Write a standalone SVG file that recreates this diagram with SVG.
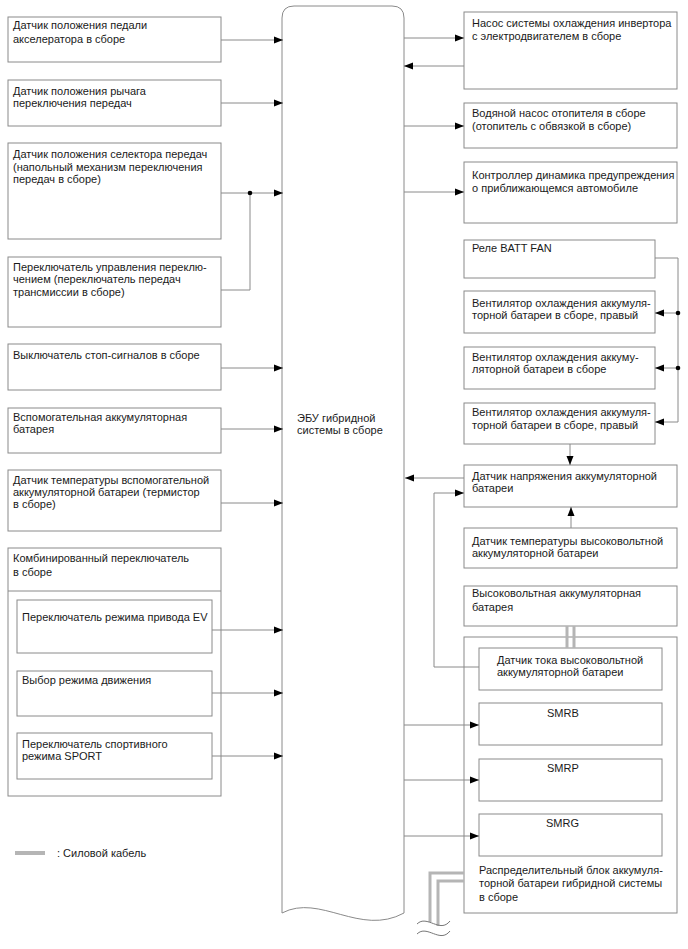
<svg xmlns="http://www.w3.org/2000/svg" width="688" height="949" viewBox="0 0 688 949">
<defs>
<marker id="ah" markerWidth="9" markerHeight="8" refX="9" refY="4" orient="auto" markerUnits="userSpaceOnUse"><path d="M0,0.5 L9,4 L0,7.5 z" fill="#000"/></marker>
<style>
.b{fill:#fff;stroke:#8a8a8a;stroke-width:1}
.t{font-family:"Liberation Sans",Arial,sans-serif;font-size:11px;fill:#1a1a1a}
.c{fill:none;stroke:#8a8a8a;stroke-width:1}
.a{fill:none;stroke:#8a8a8a;stroke-width:1;marker-end:url(#ah)}
.p{fill:none;stroke:#b5b5b5;stroke-width:3}
.w{fill:none;stroke:#777;stroke-width:1}
</style>
</defs>
<rect width="688" height="949" fill="#fff"/>

<g id="ecu">
<path class="b" d="M282,913 L282,18 Q282,6 294,6 L392,6 Q404,6 404,18 L404,913 C360,937 320,893 282,913 Z" stroke="#999"/>
<text class="t" x="297" y="422">ЭБУ гибридной</text>
<text class="t" x="297" y="434">системы в сборе</text>
</g>

<g id="l1"><rect class="b" x="8" y="17" width="213" height="45"/><text class="t" x="13" y="29">Датчик положения педали</text><text class="t" x="13" y="43">акселератора в сборе</text></g>
<g id="l2"><rect class="b" x="8" y="80" width="213" height="46"/><text class="t" x="13" y="95">Датчик положения рычага</text><text class="t" x="13" y="107">переключения передач</text></g>
<g id="l3"><rect class="b" x="8" y="143" width="213" height="96"/><text class="t" x="13" y="158">Датчик положения селектора передач</text><text class="t" x="13" y="171">(напольный механизм переключения</text><text class="t" x="13" y="183">передач в сборе)</text></g>
<g id="l4"><rect class="b" x="8" y="257" width="213" height="70"/><text class="t" x="13" y="271">Переключатель управления переклю-</text><text class="t" x="13" y="283">чением (переключатель передач</text><text class="t" x="13" y="296">трансмиссии в сборе)</text></g>
<g id="l5"><rect class="b" x="8" y="344" width="213" height="46"/><text class="t" x="13" y="359">Выключатель стоп-сигналов в сборе</text></g>
<g id="l6"><rect class="b" x="8" y="408" width="213" height="45"/><text class="t" x="13" y="421">Вспомогательная аккумуляторная</text><text class="t" x="13" y="433">батарея</text></g>
<g id="l7"><rect class="b" x="8" y="470" width="213" height="61"/><text class="t" x="13" y="484">Датчик температуры вспомогательной</text><text class="t" x="13" y="496">аккумуляторной батареи (термистор</text><text class="t" x="13" y="508">в сборе)</text></g>
<g id="l8"><rect class="b" x="8" y="548" width="213" height="248"/><line class="c" x1="8" y1="591" x2="221" y2="591"/><text class="t" x="13" y="562">Комбинированный переключатель</text><text class="t" x="13" y="576">в сборе</text></g>
<g id="l8a"><rect class="b" x="17" y="600" width="195" height="53"/><text class="t" x="22" y="621">Переключатель режима привода EV</text></g>
<g id="l8b"><rect class="b" x="17" y="671" width="195" height="45"/><text class="t" x="22" y="684">Выбор режима движения</text></g>
<g id="l8c"><rect class="b" x="17" y="733" width="195" height="46"/><text class="t" x="22" y="748">Переключатель спортивного</text><text class="t" x="22" y="760">режима SPORT</text></g>

<g id="r1"><rect class="b" x="464" y="12" width="213" height="77"/><text class="t" x="472" y="27">Насос системы охлаждения инвертора</text><text class="t" x="472" y="40">с электродвигателем в сборе</text></g>
<g id="r2"><rect class="b" x="464" y="103" width="213" height="45"/><text class="t" x="472" y="117">Водяной насос отопителя в сборе</text><text class="t" x="472" y="130">(отопитель с обвязкой в сборе)</text></g>
<g id="r3"><rect class="b" x="464" y="162" width="213" height="61"/><text class="t" x="472" y="179">Контроллер динамика предупреждения</text><text class="t" x="472" y="192">о приближающемся автомобиле</text></g>
<g id="r4"><rect class="b" x="464" y="240" width="191" height="38"/><text class="t" x="472" y="252">Реле BATT FAN</text></g>
<g id="r5"><rect class="b" x="464" y="291" width="191" height="42"/><text class="t" x="472" y="307">Вентилятор охлаждения аккумуля-</text><text class="t" x="472" y="319">торной батареи в сборе, правый</text></g>
<g id="r6"><rect class="b" x="464" y="347" width="191" height="42"/><text class="t" x="472" y="361">Вентилятор охлаждения аккуму-</text><text class="t" x="472" y="373">ляторной батареи в сборе</text></g>
<g id="r7"><rect class="b" x="464" y="403" width="191" height="41"/><text class="t" x="472" y="416">Вентилятор охлаждения аккумуля-</text><text class="t" x="472" y="429">торной батареи в сборе, правый</text></g>
<g id="r8"><rect class="b" x="464" y="465" width="213" height="42"/><text class="t" x="472" y="480">Датчик напряжения аккумуляторной</text><text class="t" x="472" y="492">батареи</text></g>
<g id="r9"><rect class="b" x="464" y="528" width="213" height="40"/><text class="t" x="472" y="545">Датчик температуры высоковольтной</text><text class="t" x="472" y="557">аккумуляторной батареи</text></g>
<g id="r10"><rect class="b" x="464" y="586" width="213" height="40"/><text class="t" x="472" y="597">Высоковольтная аккумуляторная</text><text class="t" x="472" y="611">батарея</text></g>
<g id="dist"><rect class="b" x="464" y="637" width="213" height="276"/><text class="t" x="479" y="874">Распределительный блок аккумуля-</text><text class="t" x="479" y="887">торной батареи гибридной системы</text><text class="t" x="479" y="901">в сборе</text></g>
<g id="cur"><rect class="b" x="479" y="648" width="183" height="42"/><text class="t" x="497" y="664">Датчик тока высоковольтной</text><text class="t" x="497" y="676">аккумуляторной батареи</text></g>
<g id="smrb"><rect class="b" x="479" y="703" width="183" height="42"/><text class="t" x="547" y="717">SMRB</text></g>
<g id="smrp"><rect class="b" x="479" y="759" width="183" height="42"/><text class="t" x="547" y="772">SMRP</text></g>
<g id="smrg"><rect class="b" x="479" y="814" width="183" height="42"/><text class="t" x="546" y="827">SMRG</text></g>

<g id="connectors">
<line class="a" x1="221" y1="40" x2="283" y2="40"/>
<line class="a" x1="221" y1="103" x2="283" y2="103"/>
<line class="a" x1="221" y1="193" x2="283" y2="193"/>
<path class="c" d="M221,290 H250 V193"/>
<circle cx="250" cy="193" r="2.3" fill="#000"/>
<line class="a" x1="221" y1="368" x2="283" y2="368"/>
<line class="a" x1="221" y1="429" x2="283" y2="429"/>
<line class="a" x1="221" y1="503" x2="283" y2="503"/>
<line class="a" x1="212" y1="630" x2="283" y2="630"/>
<line class="a" x1="212" y1="693" x2="283" y2="693"/>
<line class="a" x1="212" y1="756" x2="283" y2="756"/>

<line class="a" x1="404" y1="38" x2="464" y2="38"/>
<line class="a" x1="464" y1="66" x2="404" y2="66"/>
<line class="a" x1="404" y1="126" x2="464" y2="126"/>
<line class="a" x1="404" y1="192" x2="464" y2="192"/>
<path class="a" d="M655,258 H678 V422 H655"/>
<line class="a" x1="678" y1="313" x2="655" y2="313"/>
<line class="a" x1="678" y1="368" x2="655" y2="368"/>
<circle cx="678" cy="313" r="2.3" fill="#000"/>
<circle cx="678" cy="368" r="2.3" fill="#000"/>
<line class="a" x1="570" y1="444" x2="570" y2="465"/>
<line class="a" x1="571" y1="528" x2="571" y2="507"/>
<line class="a" x1="464" y1="478" x2="405" y2="478"/>
<path class="a" d="M479,667 H434 V493 H464"/>
<line class="a" x1="404" y1="725" x2="479" y2="725"/>
<line class="a" x1="404" y1="780" x2="479" y2="780"/>
<line class="a" x1="404" y1="836" x2="479" y2="836"/>

<line class="p" x1="567" y1="626" x2="567" y2="648"/>
<line class="p" x1="574" y1="626" x2="574" y2="648"/>
<path class="p" d="M430,922 V873 H464"/>
<path class="p" d="M438,926 V881 H464"/>
<path class="w" d="M417,924 C427,914 440,934 450,921"/>
<path class="w" d="M417,934 C427,924 440,944 450,931"/>
</g>

<g id="legend">
<line x1="15" y1="853" x2="45" y2="853" stroke="#b5b5b5" stroke-width="4"/>
<text class="t" x="57" y="857">: Силовой кабель</text>
</g>
</svg>
